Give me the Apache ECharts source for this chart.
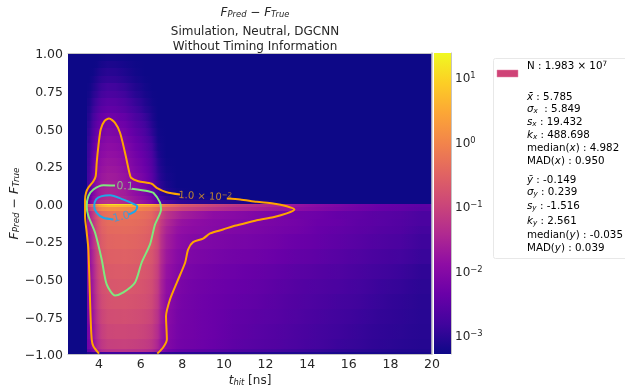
<!DOCTYPE html>
<html>
<head>
<meta charset="utf-8">
<script src="https://cdn.jsdelivr.net/npm/echarts@6/dist/echarts.min.js"></script>
<style>
	html, body { margin: 0; padding: 0; background: #fff; }
	#main { width: 625px; height: 387px; }
</style>
</head>
<body>
<div id="main"></div>
<script>
var xEdges = [2.5,3.4,3.6,3.8,4.0,4.3,4.6,5.0,5.5,6.0,6.4,6.7,7.0,7.5,8,9,10,11,12,13,14,15,16,17,18,19,20];
var yEdges = [1,.95,.9,.85,.8,.75,.7,.65,.6,.55,.5,.45,.4,.35,.3,.25,.2,.15,.1,.05,.02,0,-.01,-.025,-.05,-.1,-.15,-.2,-.3,-.4,-.5,-.6,-.7,-.8,-.9,-.97,-.99,-1];
var backgroundLog = -3.3;

// log10 density, one row per y bin from the top; bins missing at the right of a row are background
var upperRows =
[
	[-3.3,-3.3,-3.3,-3.3,-3.27,-3.25,-3.26,-3.28,-3.3],
	[-3.3,-3.3,-3.3,-3.28,-3.2,-3.15,-3.17,-3.22,-3.28,-3.3],
	[-3.3,-3.3,-3.28,-3.2,-3.1,-3.05,-3.07,-3.15,-3.25,-3.3],
	[-3.3,-3.3,-3.22,-3.12,-3,-2.95,-2.97,-3.07,-3.2,-3.28,-3.3],
	[-3.3,-3.28,-3.15,-3.03,-2.87,-2.8,-2.83,-2.94,-3.12,-3.24,-3.3],
	[-3.3,-3.25,-3.07,-2.95,-2.78,-2.7,-2.73,-2.84,-3.05,-3.2,-3.28,-3.3],
	[-3.3,-3.2,-2.98,-2.82,-2.63,-2.55,-2.58,-2.7,-2.93,-3.12,-3.25,-3.3],
	[-3.3,-3.15,-2.9,-2.72,-2.53,-2.45,-2.48,-2.6,-2.83,-3.05,-3.2,-3.3],
	[-3.3,-3.1,-2.8,-2.58,-2.38,-2.3,-2.33,-2.44,-2.7,-2.92,-3.15,-3.3],
	[-3.3,-3.05,-2.72,-2.48,-2.28,-2.2,-2.23,-2.34,-2.6,-2.82,-3.08,-3.28,-3.3],
	[-3.3,-3,-2.65,-2.38,-2.18,-2.1,-2.13,-2.24,-2.5,-2.72,-3,-3.25,-3.3],
	[-3.3,-2.95,-2.58,-2.28,-2.08,-2,-2.03,-2.14,-2.4,-2.62,-2.88,-3.22,-3.3],
	[-3.3,-2.9,-2.5,-2.2,-2,-1.92,-1.95,-2.06,-2.32,-2.54,-2.8,-3.18,-3.3],
	[-3.3,-2.87,-2.45,-2.13,-1.93,-1.85,-1.88,-1.99,-2.25,-2.47,-2.72,-3.12,-3.3],
	[-3.3,-2.85,-2.38,-2.06,-1.86,-1.78,-1.81,-1.92,-2.18,-2.4,-2.65,-3.05,-3.28,-3.3],
	[-3.3,-2.82,-2.32,-2,-1.8,-1.72,-1.75,-1.86,-2.12,-2.34,-2.6,-3,-3.25,-3.3],
	[-3.3,-2.8,-2.26,-1.94,-1.74,-1.66,-1.69,-1.8,-2.05,-2.27,-2.54,-2.95,-3.22,-3.3],
	[-3.3,-2.75,-2.2,-1.88,-1.68,-1.6,-1.63,-1.74,-1.98,-2.2,-2.47,-2.88,-3.18,-3.3],
	[-3.3,-2.7,-2.12,-1.8,-1.6,-1.52,-1.55,-1.66,-1.9,-2.12,-2.38,-2.78,-3.12,-3.25,-3.3],
	[-3.3,-2.6,-2,-1.7,-1.5,-1.42,-1.45,-1.56,-1.78,-2,-2.25,-2.62,-2.98,-3.1,-3.2,-3.25,-3.3],
	[-3.3,-2.45,-1.85,-1.55,-1.38,-1.3,-1.33,-1.43,-1.65,-1.85,-2.1,-2.42,-2.75,-2.95,-3.05,-3.1,-3.15,-3.2,-3.25,-3.3]
];
var lowerRows =
[
	[-3.3,-.5,-.1,.44,.9,1.14,1.14,1.05,.9,.77,.67,.3,-.12,-.36,-.68,-.96,-1.15,-1.34,-1.52,-1.76,-1.94,-2.08,-2.22,-2.32,-2.41,-2.5],
	[-3.3,-.8,-.4,.05,.45,.65,.65,.55,.45,.35,.25,.05,-.3,-.55,-.8,-1.05,-1.25,-1.42,-1.58,-1.8,-1.97,-2.1,-2.25,-2.35,-2.43,-2.5],
	[-3.3,-1.2,-.8,-.3,.02,.12,.12,.05,-.02,-.1,-.2,-.4,-.72,-.9,-1.1,-1.3,-1.48,-1.6,-1.74,-1.9,-2.03,-2.16,-2.28,-2.38,-2.45,-2.55],
	[-3.3,-1.65,-1.2,-.75,-.42,-.3,-.28,-.27,-.3,-.36,-.46,-.75,-1.25,-1.5,-1.72,-1.92,-2,-2.1,-2.2,-2.28,-2.33,-2.42,-2.48,-2.56,-2.6,-2.72],
	[-3.3,-1.72,-1.28,-.83,-.5,-.38,-.36,-.35,-.38,-.44,-.54,-.83,-1.42,-1.72,-1.9,-2,-2.05,-2.12,-2.18,-2.25,-2.35,-2.4,-2.5,-2.55,-2.62,-2.72],
	[-3.3,-1.77,-1.33,-.88,-.55,-.43,-.41,-.4,-.43,-.49,-.59,-.88,-1.52,-1.82,-1.95,-2.02,-2.1,-2.15,-2.22,-2.28,-2.38,-2.45,-2.52,-2.6,-2.65,-2.78],
	[-3.3,-1.85,-1.4,-.95,-.62,-.5,-.48,-.47,-.5,-.56,-.66,-.95,-1.62,-1.9,-2.05,-2.12,-2.18,-2.22,-2.28,-2.36,-2.42,-2.5,-2.58,-2.66,-2.72,-2.85],
	[-3.3,-1.93,-1.48,-1.03,-.7,-.58,-.56,-.55,-.58,-.64,-.74,-1.03,-1.72,-1.98,-2.12,-2.2,-2.26,-2.3,-2.36,-2.44,-2.5,-2.58,-2.66,-2.74,-2.8,-2.9],
	[-3.3,-2,-1.55,-1.1,-.78,-.66,-.64,-.63,-.66,-.72,-.82,-1.1,-1.82,-2.05,-2.2,-2.28,-2.34,-2.4,-2.46,-2.54,-2.6,-2.66,-2.74,-2.82,-2.88,-2.98],
	[-3.3,-2.05,-1.62,-1.17,-.84,-.72,-.7,-.69,-.72,-.78,-.88,-1.17,-1.88,-2.1,-2.25,-2.33,-2.38,-2.44,-2.52,-2.6,-2.66,-2.72,-2.8,-2.88,-2.94,-3.02],
	[-3.3,-2.1,-1.68,-1.23,-.9,-.78,-.76,-.75,-.78,-.84,-.94,-1.23,-1.92,-2.15,-2.27,-2.35,-2.42,-2.48,-2.56,-2.64,-2.7,-2.78,-2.84,-2.92,-2.98,-3.04],
	[-3.3,-2.15,-1.75,-1.3,-.99,-.87,-.85,-.84,-.87,-.93,-1.04,-1.32,-1.96,-2.18,-2.28,-2.36,-2.46,-2.52,-2.58,-2.66,-2.74,-2.82,-2.88,-2.95,-3,-3.05],
	[-3.3,-2.2,-1.82,-1.4,-1.09,-.97,-.95,-.94,-.97,-1.03,-1.14,-1.42,-2,-2.2,-2.28,-2.36,-2.48,-2.55,-2.62,-2.7,-2.78,-2.85,-2.92,-2.98,-3.02,-3.06],
	[-3.3,-2.25,-1.9,-1.5,-1.2,-1.08,-1.06,-1.05,-1.08,-1.14,-1.25,-1.52,-2.05,-2.22,-2.3,-2.38,-2.5,-2.58,-2.64,-2.72,-2.8,-2.88,-2.94,-3,-3.04,-3.08],
	[-3.3,-2.45,-2.1,-1.7,-1.4,-1.3,-1.28,-1.27,-1.3,-1.36,-1.46,-1.72,-2.25,-2.4,-2.48,-2.55,-2.65,-2.72,-2.78,-2.85,-2.92,-2.98,-3.02,-3.06,-3.1,-3.12],
	[-3.3,-3.1,-3,-2.95,-2.9,-2.85,-2.85,-2.85,-2.85,-2.85,-2.9,-2.95,-3,-3.05,-3.05,-3.1,-3.1,-3.1,-3.15,-3.15,-3.15,-3.2,-3.2,-3.2,-3.2,-3.2]
];

// contours, [t_hit, F_Pred - F_True]
var contourOrangeA = [[4.0,-.997],[3.73,-.948],[3.65,-.904],[3.6,-.771],[3.49,-.306],[3.41,-.193],[3.33,-.084],[3.33,.027],[3.38,.073],[3.49,.106],[3.73,.148],[3.84,.181],[3.89,.272],[3.97,.381],[4.08,.492],[4.26,.547],[4.48,.565],[4.77,.536],[5.01,.47],[5.25,.337],[5.46,.204],[5.54,.171],[5.89,.148],[6.53,.131],[6.77,.104],[7.25,.075],[7.89,.06]];
var contourOrangeB = [[10.14,.033],[10.78,.027],[11.58,.011],[12.37,0],[13.02,-.018],[13.39,-.04],[13.02,-.066],[12.37,-.091],[11.58,-.111],[10.78,-.14],[10.44,-.151],[9.96,-.173],[9.34,-.199],[9,-.233],[8.52,-.257],[8.28,-.306],[8.14,-.392],[7.74,-.525],[7.41,-.638],[7.22,-.749],[7.26,-.904],[7.08,-.957],[6.8,-.997]];
var contourGreen = [[5.57,.098],[6.37,.082],[6.61,.071],[6.93,.007],[6.98,-.04],[6.69,-.14],[6.45,-.272],[6.05,-.392],[5.73,-.525],[5.17,-.591],[4.77,-.611],[4.37,-.538],[4.13,-.372],[3.81,-.193],[3.49,-.084],[3.41,-.018],[3.49,.049],[3.73,.093],[4.21,.122],[4.77,.12]];
var contourBlue = [[5.41,-.073],[5.73,-.051],[5.84,-.018],[5.73,-.007],[5.15,.027],[4.53,.055],[4.13,.049],[3.86,.027],[3.77,-.018],[3.89,-.062],[4.21,-.095],[4.69,-.106]];

var xTicks = [4,6,8,10,12,14,16,18,20];
var colorTicks = [-3,-2,-1,0,1];
var logMin = -3.295, logMax = 1.37;
var plasma = ['#0d0887','#41049d','#6a00a8','#8f0da4','#b12a90','#cc4778','#e16462','#f2844b','#fca636','#fcce25','#f0f921'];
var mathFont = 'DejaVu Sans';

var logRows = upperRows.concat(lowerRows);
var cells = [];
logRows.forEach(function(row, r)
{
	function at(c)
	{
		return row[c] === undefined ? backgroundLog : row[c];
	}
	for (var c = 0; c < xEdges.length - 1; c++)
	{
		var v = at(c);
		cells.push([xEdges[c], xEdges[c+1], yEdges[r], yEdges[r+1], v, c > 1 ? at(c-1) : v, c > 0 && c < xEdges.length - 2 ? at(c+1) : v]);
	}
});

function plasmaColor(v)
{
	var t = Math.min(1, Math.max(0, (v - logMin) / (logMax - logMin)));
	return echarts.color.lerp(t, plasma);
}

function mathRich(size)
{
	return {
		i: { fontFamily: mathFont, fontStyle: 'italic', fontWeight: 'normal', fontSize: size, color: '#262626' },
		s: { fontFamily: mathFont, fontStyle: 'italic', fontWeight: 'normal', fontSize: size * 0.7, color: '#262626', padding: [size * 0.35, 0, 0, 0] },
		n: { fontFamily: mathFont, fontWeight: 'normal', fontSize: size, color: '#262626' },
		u: { fontFamily: mathFont, fontWeight: 'normal', fontSize: size * 0.7, color: '#262626', padding: [0, 0, size * 0.45, 0] }
	};
}

function contourSeries(points, color)
{
	return {
		type: 'line',
		xAxisIndex: 0,
		yAxisIndex: 0,
		data: points,
		showSymbol: false,
		smooth: 0.25,
		silent: true,
		z: 6,
		lineStyle: { color: color, width: 2 }
	};
}

var legendLines =
[
	['{n|N : 1.983 × 10}{u|7}', 66],
	['{i|x̄}{n| : 5.785}', 97],
	['{i|σ}{s|x}{n|  : 5.849}', 109],
	['{i|s}{s|x}{n| : 19.432}', 122],
	['{i|k}{s|x}{n| : 488.698}', 135],
	['{n|median(}{i|x}{n|) : 4.982}', 148],
	['{n|MAD(}{i|x}{n|) : 0.950}', 161],
	['{i|ȳ}{n| : -0.149}', 180],
	['{i|σ}{s|y}{n| : 0.239}', 192],
	['{i|s}{s|y}{n| : -1.516}', 206],
	['{i|k}{s|y}{n| : 2.561}', 221],
	['{n|median(}{i|y}{n|) : -0.035}', 235],
	['{n|MAD(}{i|y}{n|) : 0.039}', 248]
];

var legendGraphic =
[
	{ type: 'rect', shape: { x: 493.5, y: 58.5, width: 140, height: 200, r: 2 }, style: { fill: '#fff', stroke: '#e8e8e8', lineWidth: 1 } },
	{ type: 'rect', shape: { x: 497, y: 70, width: 21, height: 7 }, style: { fill: '#cf4377', stroke: '#e58aa8', lineWidth: 0.5 } }
];
legendLines.forEach(function(line)
{
	legendGraphic.push(
	{
		type: 'text',
		x: 527,
		y: line[1],
		style: { text: line[0], rich: mathRich(10.3), verticalAlign: 'middle', align: 'left' }
	});
});

var options =
{
	animation: false,
	backgroundColor: '#fff',
	title:
	[
		{ text: '{i|F}{s|Pred}{n| − }{i|F}{s|True}', left: 250, top: 2, textAlign: 'center', textStyle: { rich: mathRich(12) } },
		{ text: 'Simulation, Neutral, DGCNN', left: 250, top: 21, textAlign: 'center', textStyle: { fontFamily: mathFont, fontSize: 12, fontWeight: 'normal', color: '#262626' } },
		{ text: 'Without Timing Information', left: 250, top: 36, textAlign: 'center', textStyle: { fontFamily: mathFont, fontSize: 12, fontWeight: 'normal', color: '#262626' } }
	],
	grid:
	[
		{ left: 68, top: 53, width: 364, height: 301, outerBoundsMode: 'none' },
		{ left: 434, top: 53, width: 17, height: 301, outerBoundsMode: 'none' }
	],
	xAxis:
	[
		{
			type: 'value',
			gridIndex: 0,
			min: 2.51,
			max: 20,
			z: 8,
			splitLine: { show: false },
			axisTick: { show: false },
			axisLine: { onZero: false, lineStyle: { color: '#c4c4c4', width: 1 } },
			axisLabel: { customValues: xTicks, fontFamily: mathFont, fontSize: 12.5, color: '#262626', margin: 4 },
			name: '{i|t}{s|hit}{n| [ns]}',
			nameLocation: 'middle',
			nameGap: 21,
			nameMoveOverlap: false,
			nameTextStyle: { rich: mathRich(12) }
		},
		{
			type: 'value',
			gridIndex: 0,
			position: 'top',
			min: 2.51,
			max: 20,
			z: 8,
			splitLine: { show: false },
			axisTick: { show: false },
			axisLabel: { show: false },
			axisLine: { onZero: false, lineStyle: { color: '#c4c4c4', width: 1 } }
		},
		{
			type: 'value',
			gridIndex: 1,
			min: 0,
			max: 1,
			show: false
		}
	],
	yAxis:
	[
		{
			type: 'value',
			gridIndex: 0,
			min: -1,
			max: 1,
			interval: 0.25,
			z: 8,
			splitLine: { show: false },
			axisTick: { show: false },
			axisLine: { show: false },
			axisLabel:
			{
				margin: 5,
				padding: [4, 0, 0, 0],
				rich: mathRich(12.5),
				formatter: function(v)
				{
					return '{n|' + v.toFixed(2).replace('-', '−') + '}';
				}
			},
			name: '{i|F}{s|Pred}{n| − }{i|F}{s|True}',
			nameLocation: 'middle',
			nameGap: 47,
			nameRotate: 90,
			nameMoveOverlap: false,
			nameTextStyle: { rich: mathRich(12.5) }
		},
		{
			type: 'value',
			gridIndex: 0,
			position: 'right',
			min: -1,
			max: 1,
			z: 8,
			splitLine: { show: false },
			axisTick: { show: false },
			axisLabel: { show: false },
			axisLine: { show: true, onZero: false, lineStyle: { color: '#c4c4c4', width: 1.5 } }
		},
		{
			type: 'value',
			gridIndex: 1,
			position: 'right',
			min: logMin,
			max: logMax,
			z: 8,
			splitLine: { show: false },
			axisTick: { show: false },
			axisLine: { show: true, onZero: false, lineStyle: { color: '#c4c4c4', width: 1 } },
			axisLabel:
			{
				customValues: colorTicks,
				margin: 4,
				padding: [4, 0, 0, 0],
				formatter: function(v)
				{
					return '{n|10}{u|' + String(v).replace('-', '−') + '}';
				},
				rich: mathRich(12)
			}
		}
	],
	graphic: legendGraphic,
	series:
	[
		{
			type: 'custom',
			xAxisIndex: 0,
			yAxisIndex: 0,
			silent: true,
			clip: true,
			data: cells,
			dimensions: ['x0', 'x1', 'y0', 'y1', 'logv', 'prev', 'next'],
			encode: { x: [0, 1], y: [2, 3] },
			renderItem: function(params, api)
			{
				var a = api.coord([api.value(0), api.value(2)]);
				var b = api.coord([api.value(1), api.value(3)]);
				var x = Math.round(a[0]), y = Math.round(a[1]);
				var v = api.value(4);
				return {
					type: 'rect',
					shape: { x: x, y: y, width: Math.round(b[0]) - x, height: Math.round(b[1]) - y },
					style:
					{
						// soften the steps between neighbouring time bins
						fill: new echarts.graphic.LinearGradient(0, 0, 1, 0,
						[
							{ offset: 0, color: plasmaColor((api.value(5) + v) / 2) },
							{ offset: 0.5, color: plasmaColor(v) },
							{ offset: 1, color: plasmaColor((api.value(6) + v) / 2) }
						])
					}
				};
			}
		},
		{
			type: 'custom',
			xAxisIndex: 2,
			yAxisIndex: 2,
			silent: true,
			data: [[0, logMax, 1, logMin]],
			encode: { x: [0, 2], y: [1, 3] },
			renderItem: function(params, api)
			{
				var a = api.coord([api.value(0), api.value(1)]);
				var b = api.coord([api.value(2), api.value(3)]);
				var stops = plasma.map(function(color, i)
				{
					return { offset: 1 - i / (plasma.length - 1), color: color };
				}).reverse();
				return {
					type: 'rect',
					shape: { x: a[0], y: a[1], width: b[0] - a[0], height: b[1] - a[1] },
					style: { fill: new echarts.graphic.LinearGradient(0, 0, 0, 1, stops) }
				};
			}
		},
		contourSeries(contourOrangeA, '#ffa500'),
		contourSeries(contourOrangeB, '#ffa500'),
		contourSeries(contourGreen, '#7fe87f'),
		contourSeries(contourBlue, '#1ea7e8'),
		{
			type: 'scatter',
			xAxisIndex: 0,
			yAxisIndex: 0,
			symbolSize: 1,
			itemStyle: { color: 'transparent' },
			silent: true,
			z: 7,
			data:
			[
				{ value: [5.25, .113], label: { show: true, position: 'inside', formatter: '0.1', color: '#8fd68f', fontFamily: mathFont, fontSize: 11, rotate: -3 } },
				{ value: [5.08, -.09], label: { show: true, position: 'inside', formatter: '1.0', color: '#2f9fe0', fontFamily: mathFont, fontSize: 11, rotate: 14 } },
				{ value: [9.1, .045], label: { show: true, position: 'inside', formatter: '{a|1.0 × 10}{b|−2}', rotate: -3, rich: { a: { color: '#e8a21c', fontFamily: mathFont, fontSize: 10 }, b: { color: '#e8a21c', fontFamily: mathFont, fontSize: 7, padding: [0, 0, 5, 0] } } } }
			]
		}
	]
};

var chart = echarts.init(document.getElementById('main'), null, { renderer: 'canvas' });
chart.setOption(options);
</script>
</body>
</html>
